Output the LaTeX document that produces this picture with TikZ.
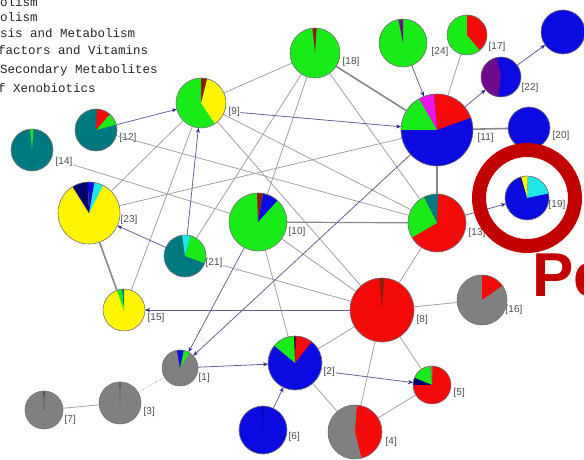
\documentclass[tikz,border=0pt]{standalone}
\usepackage{fontspec}
\setmainfont{Liberation Sans}
\newfontfamily\legendfont{Liberation Mono}
\usetikzlibrary{arrows.meta}
\definecolor{pgreen}{RGB}{25,235,25}
\definecolor{pred}{RGB}{245,10,10}
\definecolor{pblue}{RGB}{10,10,225}
\definecolor{pyellow}{RGB}{255,245,0}
\definecolor{pteal}{RGB}{0,120,128}
\definecolor{pgray}{RGB}{128,128,128}
\definecolor{ppurple}{RGB}{110,10,140}
\definecolor{pmag}{RGB}{235,20,235}
\definecolor{pcyan}{RGB}{30,230,230}
\definecolor{pnavy}{RGB}{0,0,110}
\definecolor{pdred}{RGB}{140,30,10}
\definecolor{edgegray}{RGB}{160,160,170}
\definecolor{edgedark}{RGB}{135,135,140}
\definecolor{arrline}{RGB}{100,100,150}
\definecolor{navyc}{RGB}{40,40,140}
\definecolor{ringred}{RGB}{195,0,0}
\newcommand\piechart[4]{%
  \fill[#3] (#1.center) circle[radius=#2pt];
  \foreach \sa/\ea/\cc in {#4} {\fill[\cc] (#1.center) -- ++(\sa:#2pt) arc[start angle=\sa,end angle=\ea,radius=#2pt] -- cycle;}
  \draw[pout] (#1.center) circle[radius=#2pt];}
\tikzset{
  pn/.style={circle, inner sep=0pt, outer sep=0pt},
  pout/.style={draw=black!55, line width=0.6pt},
  ed/.style={draw=edgegray, line width=0.8pt},
  edk/.style={draw=edgedark, line width=1.6pt},
  arr/.style={draw=arrline, line width=0.8pt, -{Stealth[length=5pt,width=4pt,color=navyc]}},
  lab/.style={anchor=west, inner sep=0.5pt, font=\fontsize{10}{10}\selectfont, text=black!70},
  leg/.style={anchor=west, inner sep=0pt, font=\legendfont\fontsize{12.5}{12.5}\selectfont, text=black!85},
}
\begin{document}
\begin{tikzpicture}[x=1pt,y=1pt]
\useasboundingbox (0,0) rectangle (584,460);
\clip (0,0) rectangle (584,460);
\fill[white] (0,0) rectangle (584,460);
% legend (cut off at left)
\node[leg] (g1) at (0,458) {olism};
\node[leg] (g2) at (0,443) {olism};
\node[leg] (g3) at (0,427) {sis and Metabolism};
\node[leg] (g4) at (-2,410) {factors and Vitamins};
\node[leg] (g5) at (0,390) {Secondary Metabolites};
\node[leg] (g6) at (-2,372) {f Xenobiotics};
% pie nodes
\node[pn, minimum size=50pt] (n18) at (315,407) {};
\node[pn, minimum size=50pt] (n9) at (201,357) {};
\node[pn, minimum size=48pt] (n24) at (403,417) {};
\node[pn, minimum size=40pt] (n17) at (467,425) {};
\node[pn, minimum size=44pt] (ntb) at (563,428) {};
\node[pn, minimum size=40pt] (n22) at (501,383) {};
\node[pn, minimum size=72pt] (n11) at (437,330) {};
\node[pn, minimum size=42pt] (n20) at (529,332) {};
\node[pn, minimum size=44pt] (n19) at (527,262) {};
\node[pn, minimum size=58pt] (n13) at (437,237) {};
\node[pn, minimum size=58pt] (n10) at (258,238) {};
\node[pn, minimum size=42pt] (n21) at (185,204) {};
\node[pn, minimum size=62pt] (n23) at (89,247) {};
\node[pn, minimum size=42pt] (n15) at (124,150) {};
\node[pn, minimum size=42pt] (n14) at (32,310) {};
\node[pn, minimum size=42pt] (n12) at (96,330) {};
\node[pn, minimum size=64pt] (n8) at (382,150) {};
\node[pn, minimum size=50pt] (n16) at (482,160) {};
\node[pn, minimum size=38pt] (n5) at (432,75) {};
\node[pn, minimum size=54pt] (n4) at (355,28) {};
\node[pn, minimum size=54pt] (n2) at (295,97) {};
\node[pn, minimum size=48pt] (n6) at (263,30) {};
\node[pn, minimum size=36pt] (n1) at (180,92) {};
\node[pn, minimum size=42pt] (n3) at (120,57) {};
\node[pn, minimum size=38pt] (n7) at (44,50) {};
% labels
\node[lab] (l18) at (342,398) {[18]};
\node[lab] (l9) at (228,348) {[9]};
\node[lab] (l24) at (431,408) {[24]};
\node[lab] (l17) at (488,413) {[17]};
\node[lab] (l22) at (521,372) {[22]};
\node[lab] (l11) at (477,322) {[11]};
\node[lab] (l20) at (552,324) {[20]};
\node[lab] (l19) at (548,255) {[19]};
\node[lab] (l13) at (468,227) {[13]};
\node[lab] (l10) at (288,228) {[10]};
\node[lab] (l21) at (205,197) {[21]};
\node[lab] (l23) at (120,240) {[23]};
\node[lab] (l15) at (147,142) {[15]};
\node[lab] (l14) at (55,298) {[14]};
\node[lab] (l12) at (119,322) {[12]};
\node[lab] (l8) at (416,140) {[8]};
\node[lab] (l16) at (505,150) {[16]};
\node[lab] (l5) at (453,67) {[5]};
\node[lab] (l4) at (385,18) {[4]};
\node[lab] (l2) at (323,88) {[2]};
\node[lab] (l6) at (288,23) {[6]};
\node[lab] (l1) at (198,82) {[1]};
\node[lab] (l3) at (143,48) {[3]};
\node[lab] (l7) at (64,40) {[7]};
% undirected connectors
\draw[ed] (n17) -- (n11);
\draw[edk, line width=2.6pt] (n11) -- (n13);
\draw[edk] (n11) -- (n20);
\draw[ed] (n18) -- (n9);
\draw[edk] (n18) -- (n11);
\draw[ed] (n18) -- (n13);
\draw[ed] (n18) -- (n10);
\draw[ed] (n18) -- (n21);
\draw[edk] (n23) -- (n15);
\draw[ed] (n15) -- (n9);
\draw[ed] (n9) -- (n23);
\draw[ed] (n9) -- (n8);
\draw[ed] (n9) -- (n13);
\draw[ed] (l14) -- (n10);
\draw[ed] (n12) -- (n13);
\draw[ed] (n23) -- (n11);
\draw[edk, line width=1.2pt] (n10) -- (n13);
\draw[ed] (l21) -- (n8);
\draw[ed] (n10) -- (n2);
\draw[ed] (n10) -- (n8);
\draw[ed] (n13) -- (n8);
\draw[ed] (n8) -- (n16);
\draw[ed] (n8) -- (n5);
\draw[ed] (n8) -- (n4);
\draw[ed] (n8) -- (n2);
\draw[ed] (n2) -- (n4);
\draw[ed] (n5) -- (n4);
\draw[ed, dotted] (n3) -- (n1);
\draw[ed] (n7) -- (n3);
% directed connectors
\draw[arr] (n12) -- (n9);
\draw[arr] (n21) -- (n9);
\draw[arr] (l9) -- (n11);
\draw[arr] (n24) -- (n11);
\draw[arr] (n11) -- (n22);
\draw[arr] (n22) -- (ntb);
\draw[arr] (n13) -- (n19);
\draw[arr] (n21) -- (n23);
\draw[arr] (n10) -- (n1);
\draw[arr] (n11) -- (n1);
\draw[arr] (n1) -- (n2);
\draw[arr] (l2) -- (n5);
\draw[arr] (n6) -- (n2);
\draw[arr] (n8) -- (n15);
% pies
\piechart{n18}{25}{pgreen}{86/96/pdred}
\piechart{n9}{25}{pgreen}{-56/76/pyellow, 76/90/pdred}
\piechart{n24}{24}{pgreen}{90/101/ppurple}
\piechart{n17}{20}{pgreen}{-50/90/pred}
\piechart{ntb}{22}{pblue}{90/90.1/pblue}
\piechart{n22}{20}{pblue}{102/262/ppurple}
\piechart{n11}{36}{pblue}{20/95/pred, 95/120/pmag, 120/180/pgreen}
\piechart{n20}{21}{pblue}{90/90.1/pblue}
\piechart{n19}{22}{pblue}{12/88/pcyan, 88/106/pyellow, 106/109/pnavy}
\piechart{n13}{29}{pred}{88/117/pteal, 117/210/pgreen}
\piechart{n10}{29}{pgreen}{48/80/pblue, 80/92/pdred}
\piechart{n21}{21}{pteal}{-20/75/pgreen, 75/98/pcyan}
\piechart{n23}{31}{pyellow}{63/80/pcyan, 80/92/pblue, 92/122/pnavy}
\piechart{n15}{21}{pyellow}{90/96/pteal, 96/110/pgreen}
\piechart{n14}{21}{pteal}{86/95/pgreen}
\piechart{n12}{21}{pteal}{15/49/pgreen, 49/88/pred}
\piechart{n8}{32}{pred}{86/95/pdred}
\piechart{n16}{25}{pgray}{35/90/pred}
\piechart{n5}{19}{pred}{88/95/pgray, 95/158/pgreen, 158/180/pnavy}
\piechart{n4}{27}{pred}{86/284/pgray}
\piechart{n2}{27}{pblue}{52/89/pred, 89/92/black, 92/140/pgreen}
\piechart{n6}{24}{pblue}{89/91/pnavy}
\piechart{n1}{18}{pgray}{58/78/pgreen, 78/100/pblue}
\piechart{n3}{21}{pgray}{89/91/black!80}
\piechart{n7}{19}{pgray}{89/91/black}
% highlight
\draw[ringred, line width=14pt] (n19.center) circle[radius=48pt];
\node[anchor=base west, inner sep=0pt, text=ringred, font=\fontsize{62}{62}\selectfont\bfseries] (pe) at (532,163) {Pe};
\end{tikzpicture}
\end{document}
